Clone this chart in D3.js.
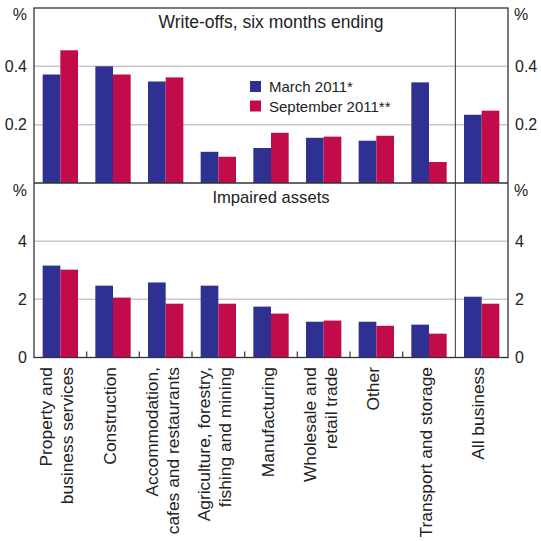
<!DOCTYPE html>
<html><head><meta charset="utf-8">
<script src="https://cdn.jsdelivr.net/npm/d3@7"></script>
<style>body{margin:0;background:#fff}svg{display:block;font-family:"Liberation Sans",Arial,sans-serif}</style>
</head><body><svg id="c" width="541" height="541"></svg>
<script>
const categories = [
  ["Property and","business services"],
  ["Construction"],
  ["Accommodation,","cafes and restaurants"],
  ["Agriculture, forestry,","fishing and mining"],
  ["Manufacturing"],
  ["Wholesale and","retail trade"],
  ["Other"],
  ["Transport and storage"],
  ["All business"]
];
const seriesNames = ["March 2011*","September 2011**"];
const writeOffsMar = [0.372,0.400,0.348,0.107,0.120,0.155,0.145,0.345,0.234];
const writeOffsSep = [0.455,0.372,0.362,0.090,0.172,0.159,0.162,0.072,0.248];
const impairedMar  = [3.16,2.47,2.58,2.47,1.75,1.23,1.23,1.13,2.09];
const impairedSep  = [3.02,2.06,1.85,1.85,1.51,1.27,1.09,0.82,1.85];
const topTicks = [0.2,0.4];
const botTicks = [0,2,4];
const colors = ["#2e3192","#c20b4a"];

const svg = d3.select("#c");
const L=34, R=508, T=8, M=183, B=357.5;
const ids = categories.map((d,i)=>i);
const x = d3.scaleBand().domain(ids).range([L,R]).padding(0);
const xs = d3.scaleBand().domain([0,1]).range([0,x.bandwidth()]).paddingInner(0).paddingOuter(0.49);
const yTop = d3.scaleLinear().domain([0,0.6]).range([M,T]);
const yBot = d3.scaleLinear().domain([0,6]).range([B,M]);
const txt="#222";

// gridlines
const grid = svg.append("g").attr("stroke","#c8c8c8").attr("stroke-width",1.5);
topTicks.forEach(t=>grid.append("line").attr("x1",L).attr("x2",R).attr("y1",yTop(t)).attr("y2",yTop(t)));
botTicks.filter(t=>t>0).forEach(t=>grid.append("line").attr("x1",L).attr("x2",R).attr("y1",yBot(t)).attr("y2",yBot(t)));

// bars
function bars(y, a, b){
  const g = svg.append("g");
  [a,b].forEach((vals,s)=>{
    g.selectAll(null).data(vals).enter().append("rect")
      .attr("x",(d,i)=>x(i)+xs(s)).attr("width",xs.bandwidth())
      .attr("y",d=>y(d)).attr("height",d=>y(0)-y(d)).attr("fill",colors[s]);
  });
}
bars(yTop, writeOffsMar, writeOffsSep);
bars(yBot, impairedMar, impairedSep);

// frame
const fr = svg.append("g").attr("stroke","#333").attr("fill","none");
fr.append("rect").attr("x",L).attr("y",T).attr("width",R-L).attr("height",B-T).attr("stroke-width",1.3);
fr.append("line").attr("x1",L).attr("x2",R).attr("y1",M).attr("y2",M).attr("stroke-width",1.6);
fr.append("line").attr("x1",x(8)).attr("x2",x(8)).attr("y1",T).attr("y2",B).attr("stroke-width",1);
// bottom ticks at band boundaries
ids.slice(1,8).forEach(i=>fr.append("line").attr("x1",x(i)).attr("x2",x(i)).attr("y1",B).attr("y2",B-6).attr("stroke-width",1.2));

// axis labels
const ax = svg.append("g").attr("fill",txt).attr("font-size",16);
function yLabels(y, ticks, fmt){
  ticks.forEach(t=>{
    ax.append("text").attr("x",L-7).attr("y",y(t)).attr("dy","0.35em").attr("text-anchor","end").text(fmt(t));
    ax.append("text").attr("x",R+7).attr("y",y(t)).attr("dy","0.35em").attr("text-anchor","start").text(fmt(t));
  });
}
yLabels(yTop, topTicks, d3.format(".1f"));
yLabels(yBot, botTicks, d3.format("d"));
[[T+12],[M+13]].forEach(([yy])=>{
  ax.append("text").attr("x",L-7).attr("y",yy).attr("text-anchor","end").text("%");
  ax.append("text").attr("x",R+6).attr("y",yy).attr("text-anchor","start").text("%");
});

// panel titles
svg.append("text").attr("x",(L+R)/2).attr("y",28).attr("text-anchor","middle").attr("font-size",17.5).attr("fill",txt).text("Write-offs, six months ending");
svg.append("text").attr("x",(L+R)/2).attr("y",203).attr("text-anchor","middle").attr("font-size",16.6).attr("fill",txt).text("Impaired assets");

// legend
seriesNames.forEach((n,s)=>{
  const yy = 81 + s*19.5;
  svg.append("rect").attr("x",250).attr("y",yy).attr("width",11).attr("height",11).attr("fill",colors[s]);
  svg.append("text").attr("x",269).attr("y",yy+11).attr("font-size",15).attr("fill",txt).text(n);
});

// category labels
const cl = svg.append("g").attr("fill",txt).attr("font-size",17.4);
categories.forEach((lines,i)=>{
  const cx = x(i)+x.bandwidth()/2;
  lines.forEach((ln,j)=>{
    const off = (j-(lines.length-1)/2)*21 + 2.5;
    cl.append("text").attr("transform",`translate(${cx+off},${B+9.5}) rotate(-90)`)
      .attr("text-anchor","end").text(ln);
  });
});
</script></body></html>
